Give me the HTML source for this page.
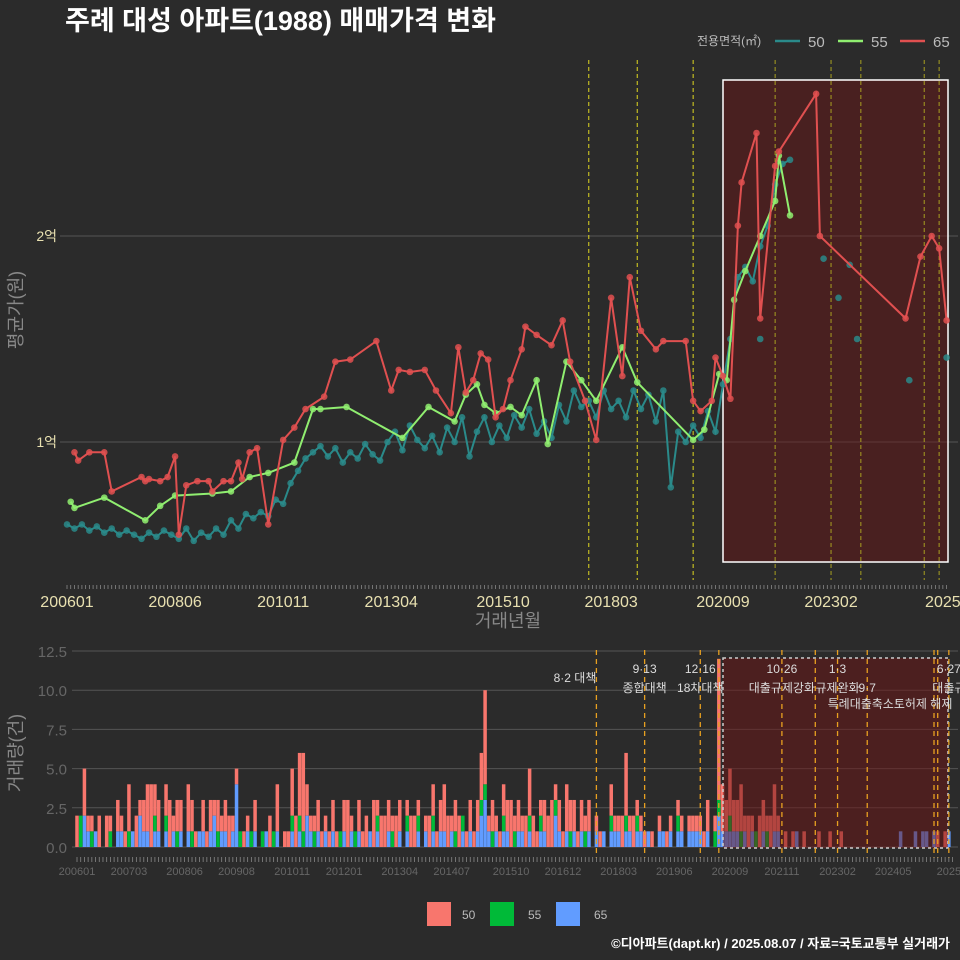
<!DOCTYPE html>
<html><head><meta charset="utf-8">
<style>
html,body{margin:0;padding:0;background:#2b2b2b;}
svg{display:block;font-family:"Liberation Sans","Noto Sans CJK KR",sans-serif;}
</style></head>
<body>
<svg id="c" width="960" height="960" viewBox="0 0 960 960">
<rect x="0" y="0" width="960" height="960" fill="#2b2b2b"/>
<text x="65" y="30" fill="#ffffff" font-size="27" font-weight="bold">주례 대성 아파트(1988) 매매가격 변화</text>
<g>
<text x="697" y="45" fill="#bbbbbb" font-size="12">전용면적(㎡)</text>
<line x1="775" y1="41" x2="800" y2="41" stroke="#2a8a8a" stroke-width="2.5"/>
<text x="808" y="47" fill="#bbbbbb" font-size="15">50</text>
<line x1="838" y1="41" x2="863" y2="41" stroke="#90ee70" stroke-width="2.5"/>
<text x="871" y="47" fill="#bbbbbb" font-size="15">55</text>
<line x1="900" y1="41" x2="925" y2="41" stroke="#e05050" stroke-width="2.5"/>
<text x="933" y="47" fill="#bbbbbb" font-size="15">65</text>
</g>
<text transform="translate(22,310) rotate(-90)" text-anchor="middle" fill="#888888" font-size="18">평균가(원)</text>
<text x="508" y="627" text-anchor="middle" fill="#888888" font-size="18">거래년월</text>
<text transform="translate(22,753) rotate(-90)" text-anchor="middle" fill="#888888" font-size="18">거래량(건)</text>
<g id="topPanel"></g>
<g id="botPanel"></g>
<g>
<rect x="427" y="902" width="24" height="24" fill="#F8766D"/>
<text x="462" y="919" fill="#bbbbbb" font-size="12">50</text>
<rect x="490" y="902" width="24" height="24" fill="#00BA38"/>
<text x="528" y="919" fill="#bbbbbb" font-size="12">55</text>
<rect x="556" y="902" width="24" height="24" fill="#619CFF"/>
<text x="594" y="919" fill="#bbbbbb" font-size="12">65</text>
</g>
<text x="950" y="948" text-anchor="end" fill="#ffffff" font-size="13" font-weight="bold">©디아파트(dapt.kr) / 2025.08.07 / 자료=국토교통부 실거래가</text>
</svg>
<script>
// ---- data ----
const m65 = [2,3,6,10,12,20,21,22,25,27,29,30,32,35,38,39,42,44,46,47,49,51,54,58,61,64,69,72,76,83,87,89,92,96,99,103,105,107,109,111,113,115,117,119,122,123,126,130,133,135,139,142,146,149,151,154,158,160,166,168,170,173,174,176,178,180,181,185,186,190,191,201,202,225,229,232,234,236];
const p65 = [0.95,0.91,0.95,0.95,0.76,0.83,0.81,0.82,0.81,0.83,0.93,0.55,0.79,0.81,0.81,0.76,0.81,0.81,0.90,0.82,0.95,0.97,0.60,1.01,1.07,1.16,1.22,1.39,1.40,1.49,1.25,1.35,1.34,1.35,1.25,1.14,1.46,1.24,1.30,1.43,1.40,1.12,1.16,1.30,1.45,1.56,1.52,1.47,1.59,1.39,1.20,1.01,1.70,1.32,1.80,1.54,1.45,1.49,1.49,1.20,1.15,1.20,1.41,1.32,1.21,2.05,2.26,2.50,1.60,2.34,2.41,2.69,2.00,1.60,1.90,2.00,1.94,1.59];
const m55 = [1,2,10,21,25,29,39,44,49,54,61,66,68,75,90,97,104,107,110,112,115,119,122,126,129,134,138,142,149,153,168,171,175,177,179,182,186,190,191,194];
const p55 = [0.71,0.68,0.73,0.62,0.69,0.74,0.75,0.76,0.83,0.85,0.90,1.16,1.16,1.17,1.02,1.17,1.10,1.23,1.28,1.18,1.14,1.17,1.13,1.30,0.99,1.39,1.30,1.20,1.46,1.29,1.01,1.06,1.33,1.30,1.69,1.83,2.00,2.17,2.39,2.10];
const m50 = [0,2,4,6,8,10,12,14,16,18,20,22,24,26,28,30,32,34,36,38,40,42,44,46,48,50,52,54,56,58,60,62,64,66,68,70,72,74,76,78,80,82,84,86,88,90,92,94,96,98,100,102,104,106,108,110,112,114,116,118,120,122,124,126,128,130,132,134,136,138,140,142,144,146,148,150,152,154,156,158,160,162,164,166,168,170,172,174,176,178,180,182,184,186,188,190,192,194];
const p50 = [0.60,0.58,0.60,0.57,0.59,0.56,0.58,0.55,0.57,0.55,0.53,0.56,0.54,0.57,0.55,0.53,0.58,0.52,0.56,0.54,0.58,0.55,0.62,0.58,0.65,0.63,0.66,0.64,0.72,0.70,0.80,0.86,0.92,0.95,0.98,0.93,0.97,0.90,0.95,0.92,0.99,0.94,0.91,1.00,1.05,0.96,1.08,1.01,0.97,1.03,0.95,1.07,1.00,1.12,0.93,1.05,1.12,1.00,1.08,1.02,1.13,1.07,1.16,1.04,1.10,1.02,1.18,1.10,1.25,1.17,1.20,1.12,1.25,1.16,1.20,1.12,1.25,1.16,1.23,1.10,1.25,0.78,1.05,1.00,1.08,1.02,1.15,1.05,1.28,1.50,1.80,1.85,1.78,1.95,2.05,2.25,2.35,2.37];
const m50dots = [186,203,207,210,212,226,236];
const p50dots = [1.50,1.89,1.70,1.86,1.50,1.30,1.41];
const topTickLabels = ["200601","200806","201011","201304","201510","201803","202009","202302","2025"];
const topTickMonths = [0,29,58,87,117,146,176,205,235];
const priceTicks = [1,2];
const priceTickLabels = ["1억","2억"];
const policyMonths = [140,153,168,190,205,213,230,234];
const volRed = [2,0,3,1,1,0,2,0,2,1,0,2, 1,1,3,0,2,1,2,3,4,2,2,0, 2,3,1,2,2,0,3,2,1,0,2,1, 2,1,2,1,2,2,1,1,0,1,1,0, 2,0,0,0,2,0,3,0,1,1,3,2, 4,5,2,1,1,2,1,1,1,2,1,0, 2,3,1,0,2,1,2,0,3,1,2,2, 2,1,2,2,0,1,2,2,1,0,1,2, 2,1,2,3,2,1,2,2,0,1,2,1, 2,3,6,1,2,1,1,2,2,3,1,2, 1,2,3,2,1,1,2,2,3,1,2,1, 3,2,2,1,2,1,2,0,1,1,0,0, 2,1,1,2,4,1,2,1,1,1,0,1, 0,1,0,1,1,0,1,1,0,1,1,1, 1,1,2,0,1,9,3,2,3,2,2,3, 1,2,1,0,2,2,1,2,3,1,0,1, 0,1,0,0,1,0,0,0,1,0,0,1, 0,0,1,0,0,0,0,0,0,0,0,0, 0,0,0,0,0,0,0,0,0,0,0,0, 0,0,0,0,1,0,1,0];
const volGreen = [0,2,0,0,1,0,0,0,0,1,0,0, 0,0,1,0,0,0,0,0,0,1,0,0, 1,0,0,1,0,0,0,1,0,0,0,0, 0,0,1,0,0,0,0,0,1,0,0,1, 0,0,1,0,0,1,0,0,0,0,1,0, 1,1,0,0,1,0,0,0,0,0,0,1, 0,0,0,1,0,0,0,0,0,1,0,0, 0,1,0,0,0,1,0,0,1,0,0,0, 1,0,0,0,0,0,1,0,1,0,0,0, 0,1,1,0,1,0,0,1,0,0,1,0, 0,0,1,0,0,1,0,0,0,1,0,0, 0,1,0,0,0,1,0,0,0,0,0,0, 1,0,0,0,1,0,0,1,0,0,0,0, 0,0,0,0,0,0,1,0,0,0,0,0, 0,0,0,0,1,1,0,0,1,0,0,1, 0,0,0,1,0,0,1,0,0,0,0,0, 0,0,0,0,0,0,0,0,0,0,0,0, 0,0,0,0,0,0,0,0,0,0,0,0, 0,0,0,0,0,0,0,0,0,0,0,0, 0,0,0,0,0,0,0,0];
const volBlue = [0,0,2,1,0,1,0,0,0,0,0,1, 1,0,0,1,0,2,1,1,0,1,1,0, 1,0,1,0,1,0,1,0,0,1,1,0, 1,2,0,1,1,0,1,4,0,0,1,0, 1,0,0,1,0,0,1,0,0,0,1,0, 1,0,2,1,0,1,0,1,0,1,0,0, 1,0,1,0,1,0,0,1,0,1,0,0, 1,0,0,1,0,1,0,0,1,0,1,0, 1,0,1,1,0,1,0,0,1,0,1,0, 1,2,3,1,0,1,0,1,1,0,0,1, 1,0,1,0,0,1,1,0,0,2,1,0, 1,0,1,0,1,0,1,0,1,0,1,0, 1,1,1,0,1,1,0,1,1,0,1,0, 0,1,1,0,1,0,1,1,0,1,1,1, 1,0,1,0,0,2,1,1,1,1,1,0, 1,0,1,0,0,1,0,0,1,1,0,0, 0,0,1,0,0,0,0,0,0,0,0,0, 0,0,0,0,0,0,0,0,0,0,0,0, 0,0,0,0,0,0,1,0,0,0,1,0, 1,1,0,1,0,0,0,1];
const volTicks = [0,2.5,5,7.5,10,12.5];
const volTickLabels = ["0.0","2.5","5.0","7.5","10.0","12.5"];
const botTickLabels = ["200601","200703","200806","200908","201011","201201","201304","201407","201510","201612","201803","201906","202009","202111","202302","202405","2025"];
const botTickMonths = [0,14,29,43,58,72,87,101,117,131,146,161,176,190,205,220,235];
const botPolicyMonths = [140,153,168,173,190,199,205,213,231,232,235];
const annoTop = ["8·2 대책","9·13","12·16","10·26","1·3","","6·27"];
const annoBot = ["","종합대책","18차대책","대출규제강화","규제완화","9·7","대출규"];
const annoMonths = [140,153,168,190,205,213,235];

// ---- scales ----
const NS="http://www.w3.org/2000/svg";
function el(tag, attrs, parent){const e=document.createElementNS(NS,tag);for(const k in attrs)e.setAttribute(k,attrs[k]);parent.appendChild(e);return e;}
const xT = m => 67 + m*3.727;
const yT = p => 442 - (p-1)*206;
const xB = m => 77 + m*3.71;
const yB = v => 847 - v*15.68;

// ---- top panel ----
const topG=document.getElementById('topPanel');
priceTicks.forEach((t,i)=>{
  const g=el('line',{x1:60,x2:958,y1:yT(t),y2:yT(t),stroke:'#555',"stroke-width":1},topG);
  
  
  const tx=el('text',{x:57,y:yT(t)+5,"text-anchor":"end",fill:'#e8e0b0',"font-size":14},topG);
  tx.textContent=priceTickLabels[i];
  
  
});
const hl=el('rect',{x:723,y:80,width:225,height:482,fill:'rgba(110,20,20,0.45)',stroke:'#ffffff',"stroke-width":1.5},topG);


policyMonths.forEach((m,i)=>{
  const l=el('line',{x1:xT(m),x2:xT(m),y1:60,y2:580,stroke:i>=3?'#a8a020':'#e0d820',"stroke-width":1,"stroke-dasharray":"4,3"},topG);
  
  
});
for(let m=0;m<=236;m++){
  const t=el('line',{x1:xT(m),x2:xT(m),y1:585,y2:589,stroke:'#888',"stroke-width":0.8},topG);
  
  
}
topTickLabels.forEach((s,i)=>{
  const t=el('text',{x:xT(topTickMonths[i]),y:607,"text-anchor":"middle",fill:'#e8e0b0',"font-size":16},topG);
  t.textContent=s;
  
  
});
function series(ms,ps,color,name,lineW){
  let d='';
  ms.forEach((m,i)=>{d+=(i?'L':'M')+xT(m).toFixed(1)+','+yT(ps[i]).toFixed(1);});
  const p=el('path',{d:d,fill:'none',stroke:color,"stroke-width":lineW},topG);
  
  
  ms.forEach((m,i)=>{
    const c=el('circle',{cx:xT(m),cy:yT(ps[i]),r:3.3,fill:color,"fill-opacity":0.85},topG);
    
    
  });
}
series(m50,p50,'#2a8a8a','50',2);
m50dots.forEach((m,i)=>{
  const c=el('circle',{cx:xT(m),cy:yT(p50dots[i]),r:3.3,fill:'#2a8a8a',"fill-opacity":0.85},topG);
  
  
});
series(m55,p55,'#90ee70','55',2);
series(m65,p65,'#e05050','65',2);

// ---- bottom panel ----
const botG=document.getElementById('botPanel');
volTicks.forEach((t,i)=>{
  const g=el('line',{x1:72,x2:958,y1:yB(t),y2:yB(t),stroke:'#555',"stroke-width":1},botG);
  
  
  const tx=el('text',{x:67,y:yB(t)+6,"text-anchor":"end",fill:'#666',"font-size":15},botG);
  tx.textContent=volTickLabels[i];
  
  
});
const bw=3.5;
for(let m=0;m<volRed.length;m++){
  let base=0;
  [[volBlue[m],'#619CFF','bar-65'],[volGreen[m],'#00BA38','bar-55'],[volRed[m],'#F8766D','bar-50']].forEach(s=>{
    if(s[0]>0){
      const r=el('rect',{x:xB(m)-bw/2,y:yB(base+s[0]),width:bw,height:s[0]*15.68,fill:s[1]},botG);
      
      
      base+=s[0];
    }
  });
}
const hl2=el('rect',{x:723,y:658,width:225,height:190,fill:'rgba(110,20,20,0.5)',stroke:'#cccccc',"stroke-width":1.5,"stroke-dasharray":"3,3"},botG);


botPolicyMonths.forEach((m,i)=>{
  const l=el('line',{x1:xB(m),x2:xB(m),y1:650,y2:858,stroke:'#e8a020',"stroke-width":1.3,"stroke-dasharray":"5,4"},botG);
  
  
});
annoMonths.forEach((m,i)=>{
  if(annoTop[i]){
    const t=el('text',{x:xB(m),y:i===0?682:673,"text-anchor":i===0?"end":"middle",fill:'#dddddd',"font-size":12},botG);
    t.textContent=annoTop[i];
    
    
  }
  if(annoBot[i]){
    const t=el('text',{x:xB(m),y:692,"text-anchor":"middle",fill:'#dddddd',"font-size":12},botG);
    t.textContent=annoBot[i];
    
    
  }
});
const t3=el('text',{x:890,y:708,"text-anchor":"middle",fill:'#dddddd',"font-size":12},botG);
t3.textContent='특례대출축소토허제 해제';


for(let m=0;m<=236;m++){
  const t=el('line',{x1:xB(m),x2:xB(m),y1:857,y2:862,stroke:'#888',"stroke-width":0.8},botG);
  
  
}
botTickLabels.forEach((s,i)=>{
  const t=el('text',{x:xB(botTickMonths[i]),y:875,"text-anchor":"middle",fill:'#666',"font-size":11},botG);
  t.textContent=s;
  
  
});
</script>
</body></html>
